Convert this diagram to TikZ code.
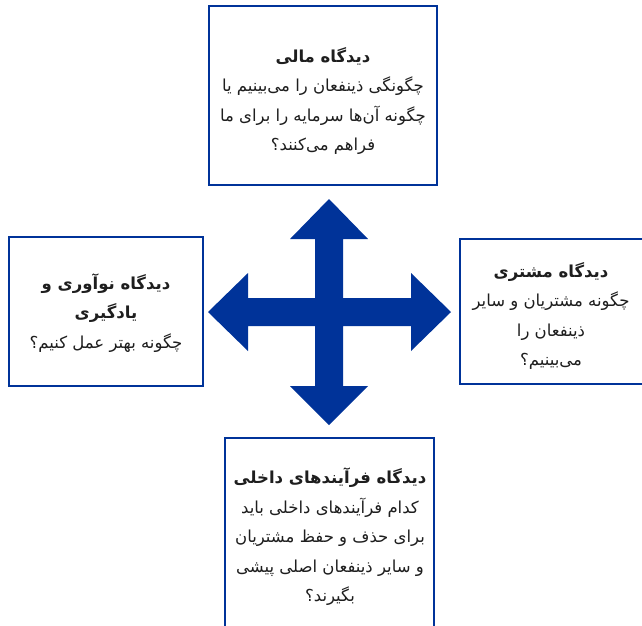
\documentclass[tikz,border=0pt]{standalone}
\usepackage{fontspec}
\newfontfamily\arabicfont[Script=Arabic]{DejaVu Sans}
\TeXXeTstate=1
\definecolor{bscblue}{RGB}{0,51,153}
\definecolor{txtgray}{RGB}{30,30,30}
\tikzset{
  box/.style={draw=bscblue, line width=2.2pt, fill=white, rectangle, inner sep=0pt, anchor=north west},
  txt/.style={align=center, text=txtgray, font=\arabicfont\fontsize{16.5}{29.5}\selectfont, inner sep=0pt},
  crossarrow/.style={fill=bscblue, draw=none}
}
\begin{document}
\begin{tikzpicture}[x=1pt,y=-1pt]
\useasboundingbox (0,0) rectangle (642,625);
\clip (0,0) rectangle (642,625);
% boxes
\node[box, minimum width=228pt, minimum height=179pt] (fin) at (208,5) {};
\node[box, minimum width=194pt, minimum height=149pt] (learn) at (8,236) {};
\node[box, minimum width=190pt, minimum height=145pt] (cust) at (459,238) {};
\node[box, minimum width=209pt, minimum height=195pt] (proc) at (224,437) {};
% texts
\node[txt] (fintxt) at (323,101) {{\bfseries\beginR دیدگاه مالی\endR}\\\beginR چگونگی ذینفعان را می‌بینیم یا\endR\\\beginR چگونه آن‌ها سرمایه را برای ما\endR\\\beginR فراهم می‌کنند؟\endR};
\node[txt] (learntxt) at (106,313) {{\bfseries\beginR دیدگاه نوآوری و\endR}\\{\bfseries\beginR یادگیری\endR}\\\beginR چگونه بهتر عمل کنیم؟\endR};
\node[txt] (custtxt) at (551,316) {{\bfseries\beginR دیدگاه مشتری\endR}\\\beginR چگونه مشتریان و سایر\endR\\\beginR ذینفعان را\endR\\\beginR می‌بینیم؟\endR};
\node[txt] (proctxt) at (330,537) {{\bfseries\beginR دیدگاه فرآیندهای داخلی\endR}\\\beginR کدام فرآیندهای داخلی باید\endR\\\beginR برای حذف و حفظ مشتریان\endR\\\beginR و سایر ذینفعان اصلی پیشی\endR\\\beginR بگیرند؟\endR};
% four-way arrow
\fill[crossarrow] (329,199) -- (368,239) -- (343,239) -- (343,298) -- (411,298) -- (411,273)
  -- (451,312) -- (411,351) -- (411,326) -- (343,326) -- (343,386) -- (368,386)
  -- (329,425) -- (290,386) -- (315,386) -- (315,326) -- (248,326) -- (248,351)
  -- (208,312) -- (248,273) -- (248,298) -- (315,298) -- (315,239) -- (290,239) -- cycle;
\end{tikzpicture}
\end{document}
